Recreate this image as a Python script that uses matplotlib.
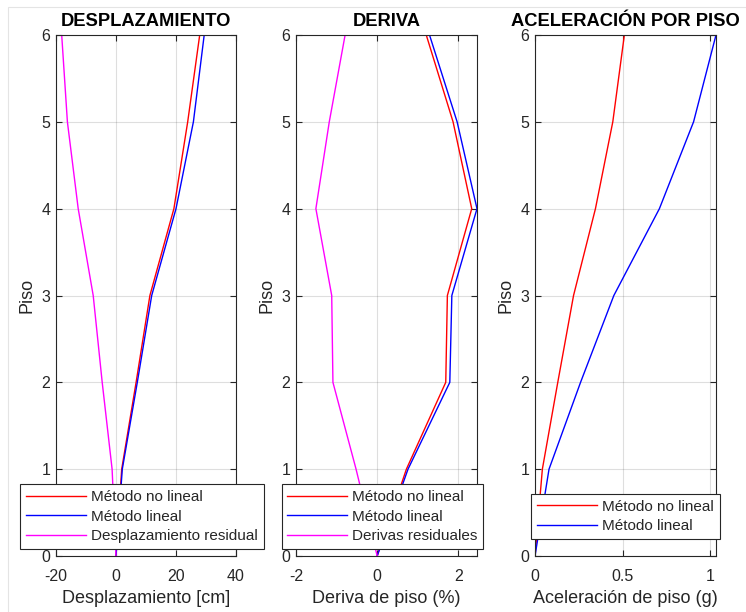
import matplotlib
matplotlib.use("Agg")
import matplotlib.pyplot as plt
from matplotlib.patches import Rectangle
import numpy as np

plt.rcParams['font.family'] = ['Liberation Sans', 'DejaVu Sans']

# pisos
pisos = [0, 1, 2, 3, 4, 5, 6]

# desplazamiento [cm]
desp_nolineal = [0, 1.9, 6.7, 11.3, 19.3, 23.9, 27.9]
desp_lineal = [0, 2.1, 7.1, 11.9, 20.0, 25.8, 29.4]
desp_residual = [0, -1.3, -4.6, -7.6, -12.6, -16.2, -18.1]

# deriva de piso [%]
der_nolineal = [0, 0.72, 1.69, 1.73, 2.33, 1.87, 1.21]
der_lineal = [0, 0.76, 1.79, 1.84, 2.46, 1.97, 1.29]
der_residual = [0, -0.52, -1.09, -1.12, -1.51, -1.18, -0.79]

# aceleracion de piso [g]
acel_nolineal = [0, 0.042, 0.13, 0.22, 0.345, 0.444, 0.51]
acel_lineal = [0, 0.08, 0.26, 0.45, 0.71, 0.905, 1.033]

GRIS = (0.15, 0.15, 0.15)

def estilo_matlab(ax, titulo, xlabel, xticks, xlim):
    ax.set_xlim(xlim)
    ax.set_ylim(0, 6)
    ax.set_xticks(xticks)
    ax.set_yticks(pisos)
    ax.set_xticklabels([('%g' % t) for t in xticks])
    ax.grid(True, color=GRIS, alpha=0.15, linewidth=0.8)
    ax.set_axisbelow(True)
    ax.tick_params(direction='in', top=True, right=True, length=4,
                   width=0.8, colors=GRIS, labelsize=11.5)
    ax.tick_params(axis='x', pad=9.5)
    ax.tick_params(axis='y', pad=4)
    for sp in ax.spines.values():
        sp.set_color(GRIS)
        sp.set_linewidth(0.8)
    ax.set_title(titulo, fontsize=13.2, fontweight='bold', pad=6.5)
    ax.set_xlabel(xlabel, fontsize=13, color=GRIS, labelpad=4)
    ax.set_ylabel('Piso', fontsize=13, color=GRIS, labelpad=4)

def leyenda(ax, x=0.5, y=0.0134):
    leg = ax.legend(loc='lower center', bbox_to_anchor=(x, y),
                    fancybox=False, framealpha=1, edgecolor=GRIS,
                    fontsize=11, handlelength=3.9, borderpad=0.38,
                    labelspacing=0.36, handletextpad=0.35, borderaxespad=0)
    leg.get_frame().set_linewidth(0.8)
    for t in leg.get_texts():
        t.set_color(GRIS)

fig = plt.figure(figsize=(7.46, 6.12), dpi=100)
# borde tenue de la ventana
fig.patches.append(Rectangle((8 / 746, -0.01), 1.0, 1.0 - 7 / 612 + 0.01,
                             transform=fig.transFigure, fill=False,
                             edgecolor='#e4e4e4', linewidth=0.8))
bottom = 56 / 612
height = 521 / 612
ax1 = fig.add_axes([56 / 746, bottom, 180 / 746, height])
ax2 = fig.add_axes([296 / 746, bottom, 181 / 746, height])
ax3 = fig.add_axes([535 / 746, bottom, 181 / 746, height])

lw = 1.0
ax1.plot(desp_nolineal, pisos, color='red', lw=lw, label='Método no lineal')
ax1.plot(desp_lineal, pisos, color='blue', lw=lw, label='Método lineal')
ax1.plot(desp_residual, pisos, color='magenta', lw=lw, label='Desplazamiento residual')
estilo_matlab(ax1, 'DESPLAZAMIENTO', 'Desplazamiento [cm]', [-20, 0, 20, 40], (-20, 40))
leyenda(ax1, x=0.478)

ax2.plot(der_nolineal, pisos, color='red', lw=lw, label='Método no lineal')
ax2.plot(der_lineal, pisos, color='blue', lw=lw, label='Método lineal')
ax2.plot(der_residual, pisos, color='magenta', lw=lw, label='Derivas residuales')
estilo_matlab(ax2, 'DERIVA', 'Deriva de piso (%)', [-2, 0, 2], (-2, max(der_lineal)))
leyenda(ax2, x=0.478)

ax3.plot(acel_nolineal, pisos, color='red', lw=lw, label='Método no lineal')
ax3.plot(acel_lineal, pisos, color='blue', lw=lw, label='Método lineal')
estilo_matlab(ax3, 'ACELERACIÓN POR PISO', 'Aceleración de piso (g)', [0, 0.5, 1], (0, max(acel_lineal)))
leyenda(ax3, y=0.033)

fig.savefig('out.png', dpi=100, facecolor='white')
